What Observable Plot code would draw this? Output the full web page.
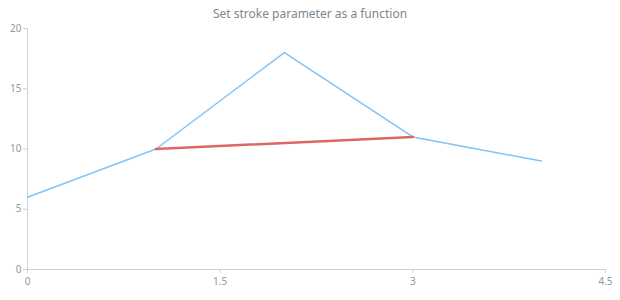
<!DOCTYPE html>
<html>
<head>
<meta charset="utf-8">
<script src="https://cdn.jsdelivr.net/npm/d3@7"></script>
<script src="https://cdn.jsdelivr.net/npm/@observablehq/plot@0.6"></script>
<style>
  html, body { margin: 0; padding: 0; background: #fff; }
  #wrap { position: relative; width: 620px; height: 300px; font-family: "Noto Sans", sans-serif; }
  #title { position: absolute; left: 0; width: 620px; top: 5px; text-align: center; font-size: 12px; color: #7c868e; }
</style>
</head>
<body>
<div id="wrap">
  <div id="title">Set stroke parameter as a function</div>
</div>
<script>
const xValues = [0, 1, 2, 3, 4];
const yValues = [6, 10, 18, 11, 9];
const segX = [1, 3];
const segY = [10, 11];
const xTicks = [0, 1.5, 3, 4.5];
const yTicks = [0, 5, 10, 15, 20];

const mainData = xValues.map((x, i) => ({x, y: yValues[i]}));
const segData = segX.map((x, i) => ({x, y: segY[i]}));

const chart = Plot.plot({
  width: 620,
  height: 300,
  marginLeft: 27,
  marginRight: 15,
  marginTop: 28,
  marginBottom: 31,
  style: {fontFamily: "Noto Sans, sans-serif", fontSize: "10px", background: "transparent"},
  x: {domain: [0, 4.5]},
  y: {domain: [0, 20]},
  marks: [
    Plot.axisY({ticks: yTicks, tickSize: 4, tickPadding: 2, stroke: "#d0d0d0", fill: "#999", label: null}),
    Plot.axisX({ticks: xTicks, tickSize: 4, tickPadding: 4, stroke: "#d0d0d0", fill: "#999", label: null, tickFormat: d => String(d)}),
    Plot.ruleX([0], {stroke: "#d0d0d0"}),
    Plot.ruleY([0], {stroke: "#d0d0d0"}),
    Plot.line(mainData, {x: "x", y: "y", stroke: "#80c4f7", strokeWidth: 1.5}),
    Plot.line(segData, {x: "x", y: "y", stroke: "#e06666", strokeWidth: 2.5})
  ]
});
document.getElementById("wrap").appendChild(chart);
</script>
</body>
</html>
